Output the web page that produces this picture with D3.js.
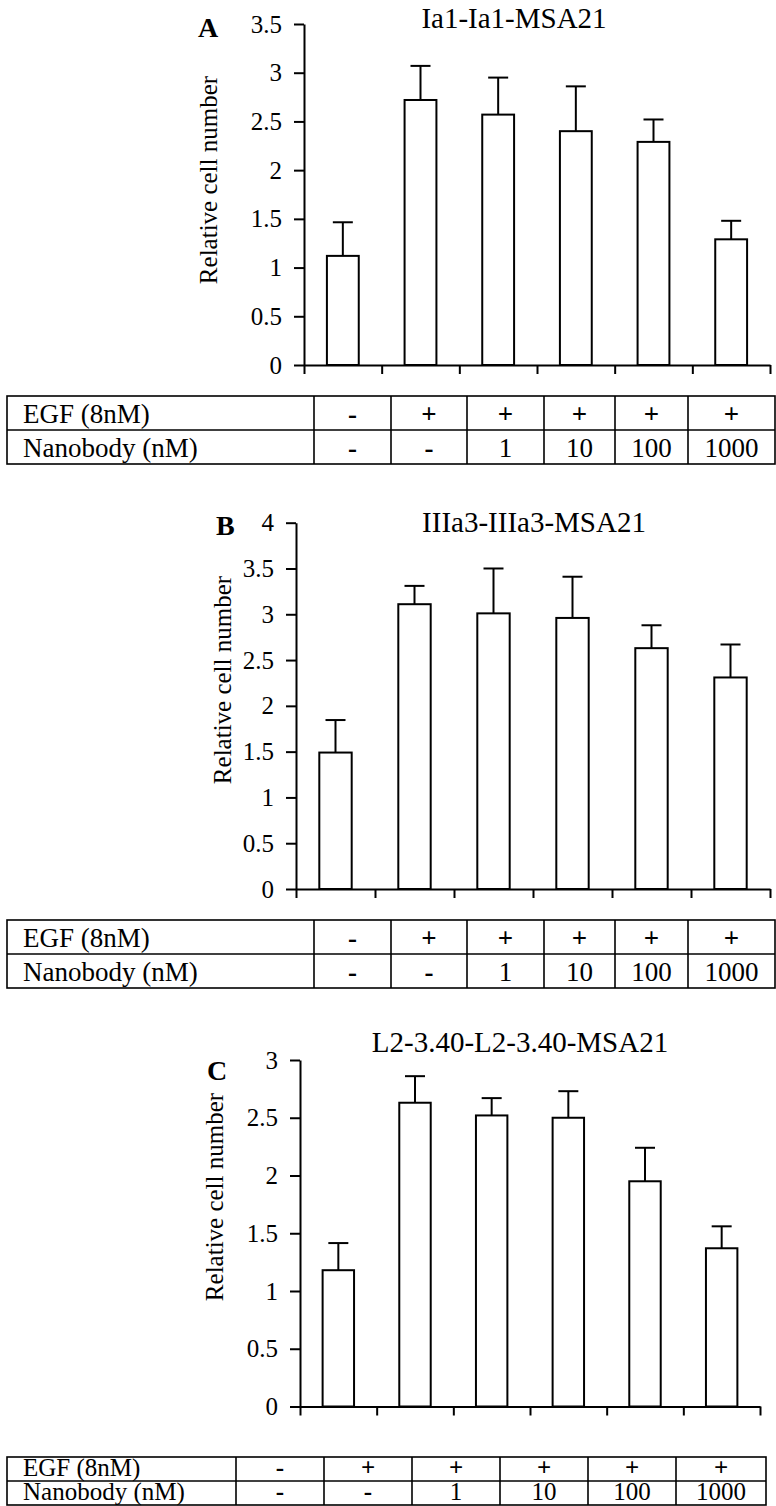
<!DOCTYPE html>
<html>
<head>
<meta charset="utf-8">
<script src="https://cdn.jsdelivr.net/npm/d3@7"></script>
<style>
  body { margin: 0; background: #fff; }
  svg { display: block; }
  text { font-family: "Liberation Serif", "Times New Roman", serif; fill: #000; }
  .axis path, .axis line { stroke: #000; stroke-width: 2; }
</style>
</head>
<body>
<svg id="chart" width="776" height="1506"></svg>
<script>
// conditions, same for all three panels
const conditions = ["c1", "c2", "c3", "c4", "c5", "c6"];
const egfRow = ["-", "+", "+", "+", "+", "+"];
const nanobodyRow = ["-", "-", "1", "10", "100", "1000"];
const rowLabels = ["EGF (8nM)", "Nanobody (nM)"];

// panel A: Ia1-Ia1-MSA21
const valuesA = [1.12, 2.72, 2.57, 2.40, 2.29, 1.29];
const errorsA = [0.345, 0.35, 0.38, 0.46, 0.23, 0.19];
const ticksA = [0, 0.5, 1, 1.5, 2, 2.5, 3, 3.5];

// panel B: IIIa3-IIIa3-MSA21
const valuesB = [1.49, 3.11, 3.01, 2.96, 2.63, 2.31];
const errorsB = [0.355, 0.20, 0.49, 0.45, 0.25, 0.36];
const ticksB = [0, 0.5, 1, 1.5, 2, 2.5, 3, 3.5, 4];

// panel C: L2-3.40-L2-3.40-MSA21
const valuesC = [1.18, 2.63, 2.52, 2.50, 1.95, 1.37];
const errorsC = [0.235, 0.23, 0.15, 0.23, 0.29, 0.19];
const ticksC = [0, 0.5, 1, 1.5, 2, 2.5, 3];

const SERIF = "'Liberation Serif', 'Times New Roman', serif";

const panels = [
  { letter: "A", title: "Ia1-Ia1-MSA21", values: valuesA, errors: errorsA, ticks: ticksA,
    x0: 304, x1: 770, yTop: 24, yBottom: 365,
    letterPos: [198, 37], titlePos: [514, 28], labelPos: [217, 180],
    table: { top: 396, rowH: 34, font: 27, cols: [7, 314, 391, 467, 544, 615, 688, 775] } },
  { letter: "B", title: "IIIa3-IIIa3-MSA21", values: valuesB, errors: errorsB, ticks: ticksB,
    x0: 296, x1: 770, yTop: 522.7, yBottom: 889,
    letterPos: [216, 535], titlePos: [534, 532], labelPos: [231, 680],
    table: { top: 920, rowH: 34, font: 27, cols: [7, 314, 391, 467, 544, 615, 688, 775] } },
  { letter: "C", title: "L2-3.40-L2-3.40-MSA21", values: valuesC, errors: errorsC, ticks: ticksC,
    x0: 300, x1: 760, yTop: 1060, yBottom: 1406.5,
    letterPos: [207, 1080], titlePos: [520, 1052], labelPos: [223, 1197],
    table: { top: 1457, rowH: 24, font: 25, cols: [7, 236, 324, 412, 500, 588, 676, 766] } }
];

const svg = d3.select("#chart");

panels.forEach(function(p) {
  const g = svg.append("g");
  const yMax = p.ticks[p.ticks.length - 1];

  const x = d3.scaleBand().domain(conditions).range([p.x0, p.x1]).padding(0);
  const y = d3.scaleLinear().domain([0, yMax]).range([p.yBottom, p.yTop]);
  const barW = x.bandwidth() * 0.41;

  // bars
  g.selectAll("rect.bar")
    .data(p.values)
    .enter().append("rect")
    .attr("class", "bar")
    .attr("x", (d, i) => x(conditions[i]) + (x.bandwidth() - barW) / 2)
    .attr("y", d => y(d))
    .attr("width", barW)
    .attr("height", d => y(0) - y(d))
    .attr("fill", "#fff")
    .attr("stroke", "#000")
    .attr("stroke-width", 2);

  // error bars (upper only)
  const err = g.selectAll("g.err")
    .data(p.values)
    .enter().append("g")
    .attr("class", "err");
  err.append("line")
    .attr("x1", (d, i) => x(conditions[i]) + x.bandwidth() / 2)
    .attr("x2", (d, i) => x(conditions[i]) + x.bandwidth() / 2)
    .attr("y1", d => y(d))
    .attr("y2", (d, i) => y(d + p.errors[i]))
    .attr("stroke", "#000").attr("stroke-width", 2);
  err.append("line")
    .attr("x1", (d, i) => x(conditions[i]) + x.bandwidth() / 2 - 10)
    .attr("x2", (d, i) => x(conditions[i]) + x.bandwidth() / 2 + 10)
    .attr("y1", (d, i) => y(d + p.errors[i]))
    .attr("y2", (d, i) => y(d + p.errors[i]))
    .attr("stroke", "#000").attr("stroke-width", 2);

  // y axis
  g.append("g")
    .attr("class", "axis")
    .attr("transform", "translate(" + p.x0 + ",0)")
    .call(d3.axisLeft(y).tickValues(p.ticks).tickFormat(d => String(d))
      .tickSize(10).tickSizeOuter(0).tickPadding(12))
    .call(a => a.selectAll("text")
      .attr("fill", "#000")
      .attr("font-family", SERIF)
      .style("font-size", "25px"));

  // x axis: ticks on the category boundaries
  const xb = d3.scaleLinear().domain([0, conditions.length]).range([p.x0, p.x1]);
  g.append("g")
    .attr("class", "axis")
    .attr("transform", "translate(0," + p.yBottom + ")")
    .call(d3.axisBottom(xb).tickValues(d3.range(conditions.length + 1))
      .tickFormat("").tickSize(9).tickSizeOuter(0));

  // panel letter, title, y label
  g.append("text")
    .attr("x", p.letterPos[0]).attr("y", p.letterPos[1])
    .attr("font-family", SERIF)
    .style("font-size", "28px").style("font-weight", "bold")
    .text(p.letter);
  g.append("text")
    .attr("x", p.titlePos[0]).attr("y", p.titlePos[1])
    .attr("text-anchor", "middle")
    .attr("font-family", SERIF)
    .style("font-size", "29px")
    .text(p.title);
  g.append("text")
    .attr("transform", "translate(" + p.labelPos[0] + "," + p.labelPos[1] + ") rotate(-90)")
    .attr("text-anchor", "middle")
    .attr("font-family", SERIF)
    .style("font-size", "25px")
    .text("Relative cell number");

  // condition table
  const t = p.table;
  const tg = g.append("g");
  const cols = t.cols;
  const nRows = rowLabels.length;
  tg.append("rect")
    .attr("x", cols[0]).attr("y", t.top)
    .attr("width", cols[cols.length - 1] - cols[0]).attr("height", t.rowH * nRows)
    .attr("fill", "none").attr("stroke", "#000").attr("stroke-width", 1.6);
  tg.selectAll("line.hrow")
    .data(d3.range(1, nRows))
    .enter().append("line")
    .attr("x1", cols[0]).attr("x2", cols[cols.length - 1])
    .attr("y1", d => t.top + d * t.rowH).attr("y2", d => t.top + d * t.rowH)
    .attr("stroke", "#000").attr("stroke-width", 1.6);
  tg.selectAll("line.vcol")
    .data(cols.slice(1, -1))
    .enter().append("line")
    .attr("x1", d => d).attr("x2", d => d)
    .attr("y1", t.top).attr("y2", t.top + t.rowH * nRows)
    .attr("stroke", "#000").attr("stroke-width", 1.6);

  [egfRow, nanobodyRow].forEach(function(row, r) {
    const base = t.top + r * t.rowH + t.rowH * 0.8;
    tg.append("text")
      .attr("x", cols[0] + 16).attr("y", base)
      .attr("font-family", SERIF)
      .style("font-size", t.font + "px")
      .text(rowLabels[r]);
    tg.selectAll(null)
      .data(row)
      .enter().append("text")
      .attr("x", (d, i) => (cols[i + 1] + cols[i + 2]) / 2)
      .attr("y", base)
      .attr("text-anchor", "middle")
      .attr("font-family", d => (d === "+" || d === "-") ? "'Liberation Sans', Arial, sans-serif" : SERIF)
      .style("font-size", t.font + "px")
      .style("font-weight", d => (d === "+" || d === "-") ? "bold" : "normal")
      .text(d => d);
  });
});
</script>
</body>
</html>
